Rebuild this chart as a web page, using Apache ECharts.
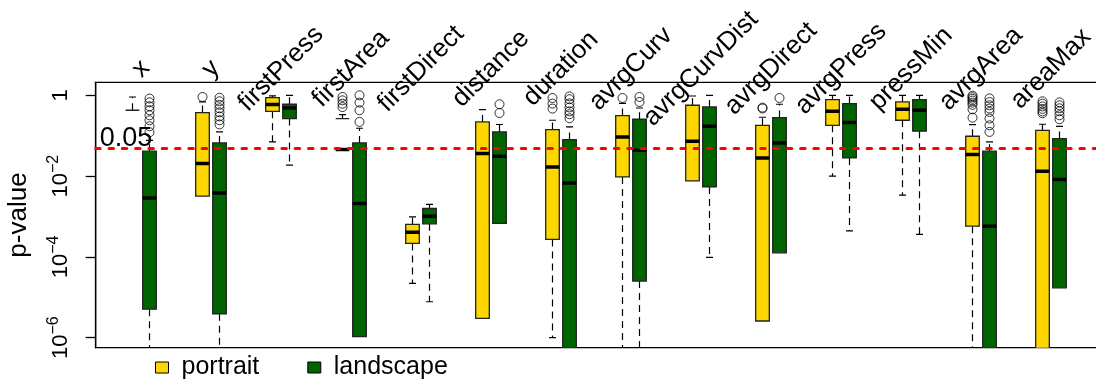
<!DOCTYPE html>
<html>
<head>
<meta charset="utf-8">
<script src="https://cdn.jsdelivr.net/npm/echarts@6/dist/echarts.min.js"></script>
<style>
  html, body { margin: 0; padding: 0; background: #fff; }
  #chart { width: 1096px; height: 385px; }
</style>
</head>
<body>
<div id="chart"></div>
<script>
// Feature names, one group of two boxes per feature
const categories = ['x', 'y', 'firstPress', 'firstArea', 'firstDirect', 'distance', 'duration',
  'avrgCurv', 'avrgCurvDist', 'avrgDirect', 'avrgPress', 'pressMin', 'avrgArea', 'areaMax'];

// Box statistics per feature: [lower whisker, Q1, median, Q3, upper whisker] (p-values; 0 = p of zero)
const portraitStats = [
  [0, 0, 0, 0.426, 0.908],
  [0, 3.19e-3, 0.0205, 0.373, 0.69],
  [0.070, 0.402, 0.589, 0.877, 0.97],
  [0, 0, 0.0455, 0.265, 0.333],
  [2.21e-5, 2.16e-4, 4.1e-4, 6.36e-4, 9.8e-4],
  [0, 3.02e-6, 0.0362, 0.219, 0.443],
  [1.0e-6, 2.71e-4, 0.0169, 0.142, 0.241],
  [1e-8, 9.55e-3, 0.093, 0.315, 0.634],
  [0, 7.6e-3, 0.0729, 0.566, 0.96],
  [0, 2.59e-6, 0.0282, 0.181, 0.286],
  [9.95e-3, 0.181, 0.402, 0.783, 1.0],
  [3.37e-3, 0.241, 0.451, 0.684, 1.0],
  [1e-8, 5.77e-4, 0.0342, 0.0969, 0.187],
  [1e-8, 1e-7, 0.0132, 0.136, 0.192]
];
const landscapeStats = [
  [1e-8, 5.1e-6, 2.89e-3, 0.0413, 0.077],
  [1e-8, 3.92e-6, 3.84e-3, 0.0662, 0.124],
  [0.0186, 0.265, 0.485, 0.6, 1.0],
  [0, 1.06e-6, 2.1e-3, 0.0662, 0.153],
  [7.76e-6, 6.58e-4, 1.02e-3, 1.58e-3, 1.99e-3],
  [0, 6.73e-4, 0.031, 0.124, 0.189],
  [1e-8, 1e-7, 6.79e-3, 0.0803, 0.165],
  [1e-8, 2.52e-5, 0.0437, 0.255, 0.485],
  [9.7e-5, 5.41e-3, 0.171, 0.514, 1.0],
  [0, 1.26e-4, 0.0662, 0.281, 0.6],
  [4.42e-4, 0.0282, 0.211, 0.623, 1.0],
  [3.6e-4, 0.129, 0.426, 0.783, 1.0],
  [1e-8, 1e-7, 5.77e-4, 0.0413, 0.070],
  [0, 1.72e-5, 8.24e-3, 0.085, 0.171]
];

// Outlying p-values per feature
const portraitOutliers = [
  [], [0.908], [], [0.91, 0.75, 0.62, 0.51], [], [], [0.858, 0.623, 0.469],
  [0.857], [], [0.496, 0.47], [], [], [0.98, 0.9, 0.82, 0.74, 0.66, 0.58, 0.45, 0.28],
  [0.71, 0.62, 0.53, 0.46, 0.4, 0.36]
];
const landscapeOutliers = [
  [0.83, 0.67, 0.535, 0.426, 0.32, 0.241, 0.171, 0.122],
  [0.87, 0.71, 0.58, 0.477, 0.38, 0.30, 0.241, 0.19],
  [], [1.0, 0.66, 0.426, 0.219], [], [0.6, 0.365],
  [0.94, 0.8, 0.63, 0.5, 0.4, 0.34, 0.27],
  [0.908, 0.683], [], [0.857], [], [],
  [0.84, 0.68, 0.566, 0.47, 0.386, 0.265, 0.181, 0.124],
  [0.67, 0.566, 0.477, 0.402, 0.32, 0.255]
];

// Significance cut-off and log10 tick positions
const CUTOFF = 0.05;
const yTicks = [-6, -4, -2, 0];

// Layout / style
const FONT = "'Liberation Sans', Arial, sans-serif";
const YELLOW = '#FFD700';
const GREEN = '#006400';
const SIDE = 8.5 / 70;          // half distance between paired boxes, in group units
const BOX_HALF = 6.8;           // px
const CAP_HALF = 3.5;           // px
const LABEL_GAP = 13.5;         // px from the top frame to the centre of a feature name
const X_MIN = (95.7 - 141) / 70;
const X_MAX = X_MIN + 1002 / 70;
const Y_MIN = -6.247;
const Y_MAX = 0.3214;

function boxRenderer(fill) {
  return function (params, api) {
    const x = api.coord([api.value(0), 0])[0];
    const yOf = v => api.coord([0, Math.log10(v)])[1];
    const mn = api.value(1), q1 = api.value(2), md = api.value(3), q3 = api.value(4), mx = api.value(5);
    const dash = { stroke: '#000', lineWidth: 1.2, lineDash: [7, 5], fill: null };
    const solid = { stroke: '#000', lineWidth: 1.2, fill: null };
    const items = [];
    const yQ3 = yOf(q3);
    if (mx > q3) {
      const y = yOf(mx);
      items.push({ type: 'line', shape: { x1: x, y1: yQ3, x2: x, y2: y }, style: dash });
      items.push({ type: 'line', shape: { x1: x - CAP_HALF, y1: y, x2: x + CAP_HALF, y2: y }, style: solid });
    }
    if (mn > 0 && q1 > 0 && mn < q1) {
      const y0 = yOf(q1), y = yOf(mn);
      items.push({ type: 'line', shape: { x1: x, y1: y0, x2: x, y2: y }, style: dash });
      items.push({ type: 'line', shape: { x1: x - CAP_HALF, y1: y, x2: x + CAP_HALF, y2: y }, style: solid });
    }
    if (q1 > 0) {
      const yQ1 = yOf(q1);
      items.push({ type: 'rect', shape: { x: x - BOX_HALF, y: yQ3, width: 2 * BOX_HALF, height: yQ1 - yQ3 },
        style: { fill: fill, stroke: '#222', lineWidth: 1.3 } });
    } else {
      items.push({ type: 'line', shape: { x1: x - BOX_HALF, y1: yQ3, x2: x + BOX_HALF, y2: yQ3 },
        style: { stroke: '#222', lineWidth: 1.3 } });
    }
    if (md > 0) {
      const y = yOf(md);
      items.push({ type: 'line', shape: { x1: x - BOX_HALF, y1: y, x2: x + BOX_HALF, y2: y },
        style: { stroke: '#000', lineWidth: 3.5 } });
    }
    return { type: 'group', children: items };
  };
}

// Feature names above the frame, centred on each group and turned 45 degrees
function nameRenderer(params, api) {
  const p = api.coord([api.value(0), Y_MAX]);
  return {
    type: 'text', x: p[0], y: p[1] - LABEL_GAP, rotation: Math.PI / 4,
    style: {
      text: categories[params.dataIndex], fontSize: 26, fontFamily: FONT, fill: '#000',
      align: 'center', verticalAlign: 'middle'
    }
  };
}

const boxData = (stats, off) => stats.map((s, i) => [i + off].concat(s));
const outlierData = (lists, off) => lists.flatMap((arr, i) => arr.map(p => [i + off, Math.log10(p)]));

const outlierStyle = { color: 'transparent', borderColor: '#000', borderWidth: 1 };

const chart = echarts.init(document.getElementById('chart'), null, { renderer: 'canvas' });
chart.setOption({
  animation: false,
  textStyle: { fontFamily: FONT, color: '#000' },
  grid: {
    left: 95.7, top: 82.3, width: 1002, height: 265.4,
    show: true, borderColor: '#000', borderWidth: 1.3, backgroundColor: 'transparent',
    outerBoundsMode: 'none'
  },
  legend: {
    left: 155, top: 355, padding: 0, icon: 'rect',
    itemWidth: 13, itemHeight: 11, itemGap: 48,
    textStyle: { fontSize: 25, color: '#000', fontFamily: FONT, padding: [0, 0, 0, 8] },
    data: [
      { name: 'portrait', itemStyle: { color: YELLOW, borderColor: '#000', borderWidth: 1 } },
      { name: 'landscape', itemStyle: { color: GREEN, borderColor: '#000', borderWidth: 1 } }
    ]
  },
  xAxis: { type: 'value', min: X_MIN, max: X_MAX, show: false },
  yAxis: {
    type: 'value', min: Y_MIN, max: Y_MAX,
    splitLine: { show: false },
    axisLine: { show: true, onZero: false, lineStyle: { color: '#000', width: 1.3 } },
    axisTick: { show: true, length: 10, customValues: yTicks, lineStyle: { color: '#000', width: 1.3 } },
    axisLabel: {
      customValues: yTicks,
      rotate: 90, margin: 24, color: '#000', fontFamily: FONT, fontSize: 22,
      formatter: v => v === 0 ? '{b|1}' : '{b|10}{s|\u2212' + (-v) + '}',
      rich: {
        b: { fontSize: 22, fontFamily: FONT, color: '#000', verticalAlign: 'bottom' },
        s: { fontSize: 16, fontFamily: FONT, color: '#000', verticalAlign: 'bottom', padding: [0, 0, 10, 0] }
      }
    },
    name: 'p-value', nameLocation: 'middle', nameGap: 64,
    nameTextStyle: { fontSize: 26, color: '#000', fontFamily: FONT }
  },
  series: [
    {
      name: 'portrait', type: 'custom', clip: true, silent: true,
      itemStyle: { color: YELLOW },
      encode: { x: 0, y: [1, 2, 3, 4, 5] },
      renderItem: boxRenderer(YELLOW),
      data: boxData(portraitStats, -SIDE)
    },
    {
      name: 'landscape', type: 'custom', clip: true, silent: true,
      itemStyle: { color: GREEN },
      encode: { x: 0, y: [1, 2, 3, 4, 5] },
      renderItem: boxRenderer(GREEN),
      data: boxData(landscapeStats, SIDE)
    },
    {
      name: 'portrait outliers', type: 'scatter', silent: true, z: 3,
      symbol: 'circle', symbolSize: 9, itemStyle: outlierStyle,
      data: outlierData(portraitOutliers, -SIDE)
    },
    {
      name: 'landscape outliers', type: 'scatter', silent: true, z: 4,
      symbol: 'circle', symbolSize: 9, itemStyle: outlierStyle,
      data: outlierData(landscapeOutliers, SIDE),
      markLine: {
        silent: true, symbol: ['none', 'none'],
        data: [{ yAxis: Math.log10(CUTOFF) }],
        lineStyle: { color: '#ff0000', width: 3, type: [4.5, 8.8], cap: 'round' },
        label: {
          show: true, position: 'insideStartTop', formatter: String(CUTOFF),
          fontSize: 27, color: '#000', fontFamily: FONT, distance: [4, -4]
        }
      }
    },
    {
      name: 'feature names', type: 'custom', clip: false, silent: true, z: 5,
      encode: { x: 0 },
      renderItem: nameRenderer,
      data: categories.map((_, i) => [i])
    }
  ]
});
</script>
</body>
</html>
